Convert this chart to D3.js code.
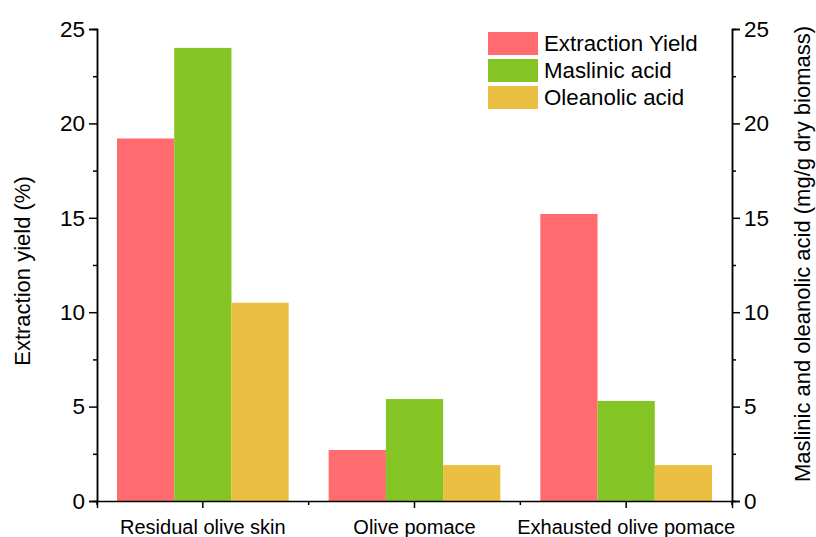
<!DOCTYPE html>
<html>
<head>
<meta charset="utf-8">
<script src="https://cdn.jsdelivr.net/npm/d3@7"></script>
<style>
  body { margin: 0; background: #fff; }
  text { font-family: Arial, "Liberation Sans", sans-serif; fill: #000; }
</style>
</head>
<body>
<div id="chart"></div>
<script>
// data
const categories = ["Residual olive skin", "Olive pomace", "Exhausted olive pomace"];
const seriesNames = ["Extraction Yield", "Maslinic acid", "Oleanolic acid"];
const extractionYield = [19.2, 2.7, 15.2];
const maslinicAcid = [24.0, 5.4, 5.3];
const oleanolicAcid = [10.5, 1.9, 1.9];
const colors = ["#FF6B6E", "#84C425", "#EBBF42"];
const yTicks = [0, 5, 10, 15, 20, 25];

let width = 816, height = 537;
let margin = {top: 29, right: 84, bottom: 36, left: 97};
let innerW = width - margin.left - margin.right;
let innerH = height - margin.top - margin.bottom;

let svg = d3.select("#chart").append("svg")
    .attr("width", width)
    .attr("height", height);

let g = svg.append("g")
    .attr("transform", "translate(" + margin.left + "," + margin.top + ")");

// scales
let x0 = d3.scaleBand().domain(categories).range([0, innerW]).paddingInner(0).paddingOuter(0);
let x1 = d3.scaleBand().domain(seriesNames).range([20, x0.bandwidth() - 20]);
let yL = d3.scaleLinear().domain([0, 25]).range([innerH, 0]);
let yR = d3.scaleLinear().domain([0, 25]).range([innerH, 0]);

let rows = categories.map((c, i) => ({
    cat: c,
    vals: [extractionYield[i], maslinicAcid[i], oleanolicAcid[i]]
}));

// bars
let groups = g.selectAll(".grp").data(rows).enter().append("g")
    .attr("transform", d => "translate(" + x0(d.cat) + ",0)");
groups.selectAll("rect").data(d => d.vals.map((v, j) => ({v: v, s: seriesNames[j], j: j})))
    .enter().append("rect")
    .attr("x", d => x1(d.s))
    .attr("width", x1.bandwidth())
    .attr("y", d => (d.j === 0 ? yL(d.v) : yR(d.v)))
    .attr("height", d => innerH - (d.j === 0 ? yL(d.v) : yR(d.v)))
    .attr("fill", d => colors[d.j]);

// left axis
let minorTicks = d3.range(2.5, 25, 5);
let yAxisL = g.append("g").call(d3.axisLeft(yL).tickValues(yTicks).tickSize(8).tickPadding(4));
g.append("g").call(d3.axisLeft(yL).tickValues(minorTicks).tickSize(4).tickFormat(""));
// right axis
let yAxisR = g.append("g").attr("transform", "translate(" + innerW + ",0)")
    .call(d3.axisRight(yR).tickValues(yTicks).tickSize(8).tickPadding(4));
g.append("g").attr("transform", "translate(" + innerW + ",0)")
    .call(d3.axisRight(yR).tickValues(minorTicks).tickSize(4).tickFormat(""));
// bottom axis
let xAxis = g.append("g").attr("transform", "translate(0," + innerH + ")")
    .call(d3.axisBottom(x0).tickSize(7).tickPadding(12));
let bounds = d3.range(0, categories.length + 1).map(i => i * x0.step());
g.append("g").attr("transform", "translate(0," + innerH + ")")
    .selectAll("line").data(bounds).enter().append("line")
    .attr("x1", d => d).attr("x2", d => d).attr("y1", 0).attr("y2", 4)
    .attr("stroke", "#000").attr("stroke-width", 1.5);

g.selectAll(".domain").attr("stroke", "#000").attr("stroke-width", 1.5);
g.selectAll(".tick line").attr("stroke", "#000").attr("stroke-width", 1.5);
yAxisL.selectAll("text").style("font-size", "22.5px");
yAxisR.selectAll("text").style("font-size", "22.5px");
xAxis.selectAll("text").style("font-size", "20px");

// axis titles
svg.append("text")
    .attr("transform", "translate(30,271) rotate(-90)")
    .attr("text-anchor", "middle")
    .style("font-size", "22px")
    .text("Extraction yield (%)");
svg.append("text")
    .attr("transform", "translate(810,254) rotate(-90)")
    .attr("text-anchor", "middle")
    .style("font-size", "22px")
    .text("Maslinic and oleanolic acid (mg/g dry biomass)");

// legend
let legend = svg.append("g").attr("transform", "translate(488,32)");
seriesNames.forEach((s, i) => {
    legend.append("rect").attr("x", 0).attr("y", i * 27).attr("width", 50).attr("height", 23).attr("fill", colors[i]);
    legend.append("text").attr("x", 56).attr("y", i * 27 + 19).style("font-size", "22.3px").text(s);
});
</script>
</body>
</html>
